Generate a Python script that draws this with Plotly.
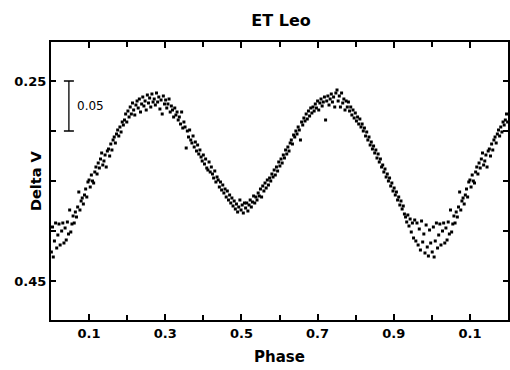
import plotly.graph_objects as go

# ---- data (phase 0..1) ----
PHASE = [
    0.001, 0.004, 0.006, 0.009, 0.012, 0.015, 0.018, 0.021, 0.024, 0.028,
    0.031, 0.034, 0.037, 0.040, 0.043, 0.046, 0.049, 0.052, 0.055, 0.058,
    0.061, 0.064, 0.067, 0.070, 0.073, 0.076, 0.079, 0.082, 0.085, 0.088,
    0.091, 0.094, 0.097, 0.100, 0.103, 0.106, 0.109, 0.112, 0.115, 0.118,
    0.121, 0.124, 0.127, 0.130, 0.133, 0.136, 0.139, 0.142, 0.145, 0.148,
    0.151, 0.154, 0.157, 0.160, 0.163, 0.166, 0.169, 0.172, 0.175, 0.178,
    0.181, 0.184, 0.187, 0.190, 0.193, 0.196, 0.199, 0.202, 0.205, 0.208,
    0.211, 0.214, 0.217, 0.220, 0.223, 0.226, 0.229, 0.232, 0.235, 0.238,
    0.241, 0.244, 0.247, 0.250, 0.253, 0.256, 0.259, 0.262, 0.265, 0.268,
    0.271, 0.274, 0.277, 0.280, 0.283, 0.286, 0.289, 0.292, 0.295, 0.298,
    0.301, 0.304, 0.307, 0.310, 0.313, 0.316, 0.319, 0.322, 0.325, 0.328,
    0.331, 0.334, 0.337, 0.340, 0.343, 0.346, 0.349, 0.352, 0.355, 0.358,
    0.361, 0.364, 0.367, 0.370, 0.373, 0.376, 0.379, 0.382, 0.385, 0.388,
    0.391, 0.394, 0.397, 0.400, 0.403, 0.406, 0.409, 0.412, 0.415, 0.418,
    0.421, 0.424, 0.427, 0.430, 0.433, 0.436, 0.439, 0.442, 0.445, 0.448,
    0.451, 0.454, 0.457, 0.460, 0.463, 0.466, 0.469, 0.472, 0.475, 0.478,
    0.481, 0.484, 0.487, 0.490, 0.493, 0.496, 0.499, 0.502, 0.505, 0.508,
    0.511, 0.514, 0.517, 0.520, 0.523, 0.526, 0.529, 0.532, 0.535, 0.538,
    0.541, 0.544, 0.547, 0.550, 0.553, 0.556, 0.559, 0.562, 0.565, 0.568,
    0.571, 0.574, 0.577, 0.580, 0.583, 0.586, 0.589, 0.592, 0.595, 0.598,
    0.601, 0.604, 0.607, 0.610, 0.613, 0.616, 0.619, 0.622, 0.625, 0.628,
    0.631, 0.634, 0.637, 0.640, 0.643, 0.646, 0.649, 0.652, 0.655, 0.658,
    0.661, 0.664, 0.667, 0.670, 0.673, 0.676, 0.679, 0.682, 0.685, 0.688,
    0.691, 0.694, 0.697, 0.700, 0.703, 0.706, 0.709, 0.712, 0.715, 0.718,
    0.721, 0.724, 0.727, 0.730, 0.733, 0.736, 0.739, 0.742, 0.745, 0.748,
    0.751, 0.754, 0.757, 0.760, 0.763, 0.766, 0.769, 0.772, 0.775, 0.778,
    0.781, 0.784, 0.787, 0.790, 0.793, 0.796, 0.799, 0.802, 0.805, 0.808,
    0.811, 0.814, 0.817, 0.820, 0.823, 0.826, 0.829, 0.832, 0.835, 0.838,
    0.841, 0.844, 0.847, 0.850, 0.853, 0.856, 0.859, 0.862, 0.865, 0.868,
    0.871, 0.874, 0.877, 0.880, 0.883, 0.886, 0.889, 0.892, 0.895, 0.898,
    0.901, 0.904, 0.907, 0.910, 0.913, 0.916, 0.919, 0.922, 0.925, 0.928,
    0.931, 0.934, 0.937, 0.940, 0.943, 0.946, 0.949, 0.952, 0.955, 0.958,
    0.961, 0.964, 0.967, 0.970, 0.973, 0.976, 0.979, 0.982, 0.985, 0.988,
    0.991, 0.994, 0.997,
]
DELTA_V = [
    0.421, 0.396, 0.426, 0.410, 0.392, 0.417, 0.404, 0.393, 0.414, 0.400,
    0.392, 0.412, 0.397, 0.409, 0.391, 0.403, 0.379, 0.401, 0.393, 0.385,
    0.392, 0.381, 0.386, 0.376, 0.361, 0.379, 0.370, 0.367, 0.373, 0.364,
    0.358, 0.366, 0.351, 0.349, 0.356, 0.344, 0.350, 0.352, 0.341, 0.336,
    0.343, 0.332, 0.337, 0.328, 0.322, 0.334, 0.330, 0.324, 0.336, 0.320,
    0.318, 0.325, 0.313, 0.319, 0.309, 0.306, 0.312, 0.303, 0.299, 0.305,
    0.296, 0.301, 0.291, 0.294, 0.289, 0.283, 0.291, 0.280, 0.286, 0.276,
    0.283, 0.272, 0.279, 0.284, 0.274, 0.270, 0.277, 0.268, 0.281, 0.273,
    0.266, 0.275, 0.270, 0.279, 0.264, 0.272, 0.267, 0.276, 0.263, 0.271,
    0.268, 0.274, 0.262, 0.271, 0.266, 0.278, 0.269, 0.283, 0.265, 0.273,
    0.269, 0.277, 0.273, 0.268, 0.281, 0.275, 0.279, 0.286, 0.277, 0.284,
    0.281, 0.289, 0.286, 0.293, 0.281, 0.297, 0.291, 0.296, 0.317, 0.300,
    0.306, 0.299, 0.309, 0.312, 0.305, 0.316, 0.311, 0.320, 0.314, 0.323,
    0.319, 0.326, 0.330, 0.324, 0.333, 0.328, 0.337, 0.339, 0.331, 0.341,
    0.336, 0.343, 0.347, 0.340, 0.351, 0.346, 0.349, 0.356, 0.351, 0.359,
    0.354, 0.362, 0.358, 0.366, 0.360, 0.369, 0.364, 0.372, 0.367, 0.375,
    0.370, 0.378, 0.373, 0.381, 0.376, 0.369, 0.379, 0.374, 0.382, 0.372,
    0.377, 0.372, 0.380, 0.374, 0.369, 0.376, 0.371, 0.365, 0.372, 0.366,
    0.369, 0.362, 0.365, 0.358, 0.366, 0.355, 0.360, 0.352, 0.357, 0.349,
    0.354, 0.347, 0.350, 0.343, 0.346, 0.339, 0.344, 0.336, 0.340, 0.331,
    0.335, 0.328, 0.332, 0.324, 0.327, 0.319, 0.323, 0.316, 0.320, 0.312,
    0.309, 0.313, 0.304, 0.306, 0.300, 0.303, 0.296, 0.299, 0.309, 0.291,
    0.294, 0.287, 0.290, 0.283, 0.288, 0.280, 0.285, 0.277, 0.282, 0.276,
    0.280, 0.273, 0.277, 0.270, 0.279, 0.272, 0.268, 0.275, 0.271, 0.266,
    0.289, 0.270, 0.265, 0.274, 0.268, 0.263, 0.271, 0.266, 0.276, 0.262,
    0.259, 0.270, 0.265, 0.276, 0.262, 0.272, 0.268, 0.279, 0.270, 0.276,
    0.271, 0.280, 0.276, 0.284, 0.279, 0.287, 0.282, 0.290, 0.286, 0.293,
    0.288, 0.296, 0.293, 0.300, 0.297, 0.305, 0.301, 0.309, 0.306, 0.314,
    0.311, 0.318, 0.315, 0.322, 0.319, 0.327, 0.323, 0.331, 0.328, 0.336,
    0.334, 0.341, 0.338, 0.346, 0.343, 0.350, 0.347, 0.355, 0.352, 0.360,
    0.357, 0.364, 0.361, 0.369, 0.366, 0.374, 0.370, 0.378, 0.375, 0.383,
    0.386, 0.391, 0.384, 0.395, 0.388, 0.401, 0.392, 0.407, 0.389, 0.410,
    0.392, 0.414, 0.398, 0.419, 0.390, 0.411, 0.403, 0.422, 0.394, 0.416,
    0.425, 0.399, 0.412,
]

# phased light curve is plotted out to phase 1.2 (phase 0..0.2 repeated)
WRAP_END = 0.2

X_TICKS = [0.1, 0.3, 0.5, 0.7, 0.9, 1.1]
X_TICK_LABELS = ["0.1", "0.3", "0.5", "0.7", "0.9", "0.1"]
X_MINOR_TICKS = [0.2, 0.4, 0.6, 0.8, 1.0]
Y_TICKS = [0.25, 0.30, 0.35, 0.40, 0.45]
Y_TICK_LABELS = ["0.25", "", "", "", "0.45"]

SCALE_BAR_X = 0.047
SCALE_BAR_CENTER = 0.275
SCALE_BAR_HALF = 0.025
SCALE_BAR_LABEL = "0.05"

xs = list(PHASE) + [p + 1 for p in PHASE if p < WRAP_END]
ys = list(DELTA_V) + [v for p, v in zip(PHASE, DELTA_V) if p < WRAP_END]

FONT = "DejaVu Sans, Verdana, sans-serif"

fig = go.Figure()
fig.add_trace(go.Scatter(
    x=xs, y=ys, mode="markers",
    marker=dict(symbol="square", size=3, color="black", line=dict(width=0)),
    showlegend=False, hoverinfo="skip",
))
# 0.05 mag scale bar
fig.add_trace(go.Scatter(
    x=[SCALE_BAR_X], y=[SCALE_BAR_CENTER], mode="markers",
    marker=dict(size=1, color="rgba(0,0,0,0)"),
    error_y=dict(type="data", array=[SCALE_BAR_HALF], symmetric=True,
                 color="black", thickness=1.3, width=5),
    showlegend=False, hoverinfo="skip",
))

fig.add_annotation(x=SCALE_BAR_X + 0.016, y=SCALE_BAR_CENTER, xref="x", yref="y",
                   text=SCALE_BAR_LABEL, showarrow=False, xanchor="left", yanchor="middle",
                   font=dict(family=FONT, size=12, color="black"))
fig.add_annotation(x=0, y=0.5, xref="paper", yref="paper", text="Delta V",
                   textangle=-90, showarrow=False, xshift=-15, xanchor="center", yanchor="middle",
                   font=dict(family=FONT, size=14.5, color="black", weight="bold"))
fig.add_annotation(x=0.5, y=0, xref="paper", yref="paper", text="Phase",
                   showarrow=False, yshift=-37, xanchor="center", yanchor="middle",
                   font=dict(family=FONT, size=15, color="black", weight="bold"))

fig.update_layout(
    width=510, height=370,
    margin=dict(l=51, r=0, t=42, b=50),
    paper_bgcolor="white", plot_bgcolor="white",
    title=dict(text="ET Leo", x=0.551, xanchor="center", y=1 - 20 / 370,
               yref="container", yanchor="middle",
               font=dict(family=FONT, size=16, color="black", weight="bold")),
    xaxis=dict(range=[0, 1.2], tickvals=X_TICKS, ticktext=X_TICK_LABELS,
               ticks="inside", ticklen=6, tickwidth=1.5, tickcolor="black",
               minor=dict(tickvals=X_MINOR_TICKS, ticks="inside", ticklen=5,
                          tickwidth=1.5, tickcolor="black", showgrid=False),
               showline=True, linecolor="black", linewidth=2, mirror="allticks",
               showgrid=False, zeroline=False,
               tickfont=dict(family=FONT, size=13, color="black", weight="bold")),
    yaxis=dict(range=[0.489, 0.211], tickvals=Y_TICKS, ticktext=Y_TICK_LABELS,
               ticks="inside", ticklen=5, tickwidth=1.5, tickcolor="black",
               showline=True, linecolor="black", linewidth=2, mirror="allticks",
               showgrid=False, zeroline=False,
               tickfont=dict(family=FONT, size=13, color="black", weight="bold")),
)

fig.write_html("out.html")
